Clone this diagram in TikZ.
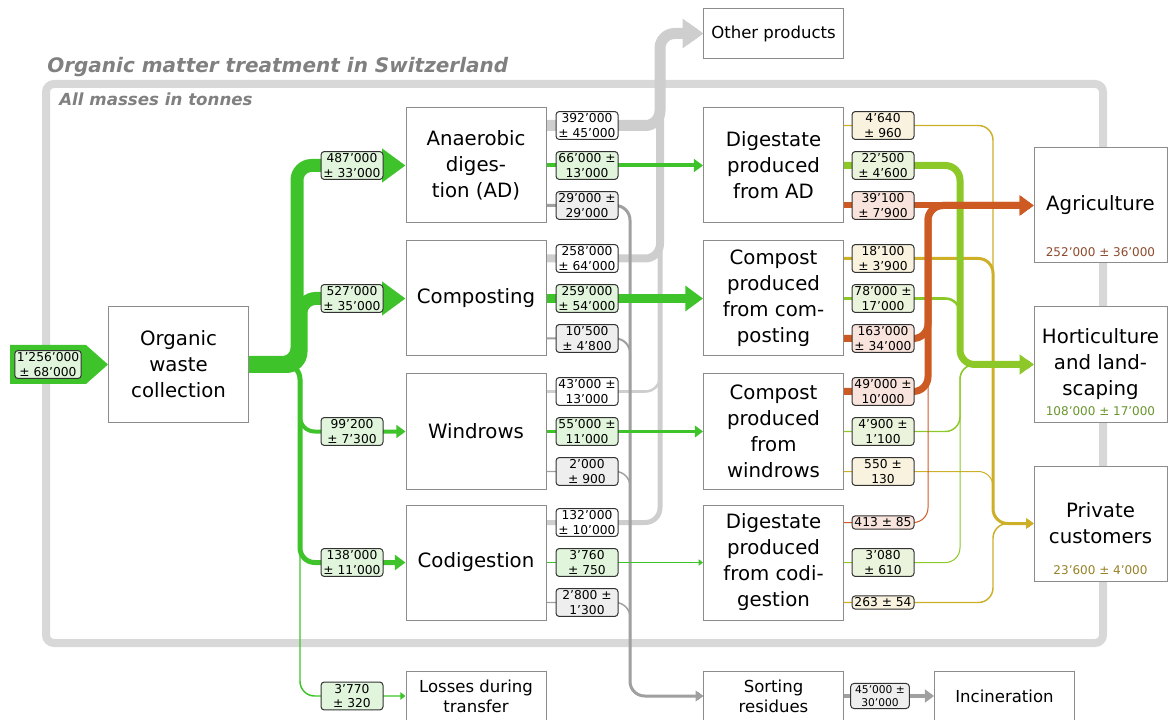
\documentclass[tikz,border=0pt]{standalone}
\usepackage{fontspec}
\setmainfont{DejaVu Sans}
\usetikzlibrary{positioning,arrows.meta}
\definecolor{frmgray}{RGB}{216,216,216}
\definecolor{ttlgray}{RGB}{128,128,128}
\definecolor{boxgray}{RGB}{140,140,140}
\definecolor{ingreen}{RGB}{62,196,42}
\definecolor{ingreenbg}{RGB}{224,245,220}
\definecolor{othgray}{RGB}{206,206,206}
\definecolor{resgray}{RGB}{160,160,160}
\definecolor{resgraybg}{RGB}{238,238,238}
\definecolor{agri}{RGB}{205,90,35}
\definecolor{agribg}{RGB}{248,228,220}
\definecolor{agritxt}{RGB}{140,75,45}
\definecolor{hort}{RGB}{140,200,40}
\definecolor{hortbg}{RGB}{234,244,220}
\definecolor{horttxt}{RGB}{105,150,45}
\definecolor{priv}{RGB}{205,175,40}
\definecolor{privbg}{RGB}{248,242,222}
\definecolor{privtxt}{RGB}{150,130,40}
\pgfdeclarelayer{framelayer}
\pgfdeclarelayer{flowlayer}
\pgfsetlayers{framelayer,flowlayer,main}
\tikzset{
  proc/.style={draw=boxgray,fill=white,line width=0.75pt,minimum width=105pt,
    minimum height=86.25pt,align=center,inner sep=2pt,
    font=\fontsize{14.8}{19.5}\selectfont},
  sbox/.style={proc,minimum height=37.5pt,font=\fontsize{12.4}{15}\selectfont},
  dest/.style={proc,minimum width=99.75pt},
  qty/.style={draw=black!80,line width=0.75pt,rounded corners=2.5pt,align=center,
    minimum width=46.5pt,inner sep=1.5pt,font=\fontsize{9.2}{11}\selectfont},
  qgreen/.style={qty,fill=ingreenbg},
  qoth/.style={qty,fill=white},
  qres/.style={qty,fill=resgraybg},
  qagri/.style={qty,fill=agribg},
  qhort/.style={qty,fill=hortbg},
  qpriv/.style={qty,fill=privbg},
  flow/.style={line width=#1,rounded corners=11pt,
    -{Triangle[length=2pt 1.6,width=3pt 2.2]}},
  dval/.style={font=\fontsize{9}{10.5}\selectfont,anchor=center,yshift=8.25pt},
  bigframe/.style={draw=frmgray,line width=6pt,rounded corners=6pt},
  ttl/.style={text=ttlgray,inner sep=0pt,anchor=base west,
    font=\fontsize{15}{18}\selectfont\bfseries\itshape},
}
\begin{document}
\begin{tikzpicture}[x=0.75pt,y=-0.75pt]
  \useasboundingbox (0,0) rectangle (1168,720);
  % titles and frame
  \node[ttl] (title) at (47,72.5) {Organic matter treatment in Switzerland};
  \node[ttl,font=\fontsize{12.5}{15}\selectfont\bfseries\itshape] (sub) at (59,106) {All masses in tonnes};
  \begin{pgfonlayer}{framelayer}
    \draw[bigframe] (46,84) rectangle (1103,643);
  \end{pgfonlayer}

  % boxes
  \node[proc] (coll) at (178.5,364.5) {Organic\\waste\\collection};
  \node[proc] (ad) at (476,165.5) {Anaerobic\\diges-\\tion (AD)};
  \node[proc] (comp) at (476,298.5) {Composting};
  \node[proc] (wind) at (476,431.5) {Windrows};
  \node[proc] (codi) at (476,562.5) {Codigestion};
  \node[sbox] (loss) at (476,696) {Losses during\\transfer};
  \node[sbox] (oth) at (773.5,33.5) {Other products};
  \node[proc] (dad) at (773.5,165.5) {Digestate\\produced\\from AD};
  \node[proc] (dcomp) at (773.5,298.5) {Compost\\produced\\from com-\\posting};
  \node[proc] (dwind) at (773.5,431.5) {Compost\\produced\\from\\windrows};
  \node[proc] (dcodi) at (773.5,562.5) {Digestate\\produced\\from codi-\\gestion};
  \node[sbox] (sort) at (773.5,696) {Sorting\\residues};
  \node[sbox] (inc) at (1004.5,696) {Incineration};
  \node[dest,label={[dval,text=agritxt]south:252’000 ± 36’000}] (agr) at (1100.5,205.5) {Agriculture};
  \node[dest,label={[dval,text=horttxt]south:108’000 ± 17’000}] (hor) at (1100.5,364.5) {Horticulture\\and land-\\scaping};
  \node[dest,label={[dval,text=privtxt]south:23’600 ± 4’000}] (pri) at (1100.5,523.5) {Private\\customers};

  % input
  \fill[ingreen] (10,345) -- (86,345) -- (108,364.5) -- (86,384) -- (10,384) -- cycle;
  \node[qgreen] (gin) at (48,364.5) {1’256’000\\± 68’000};

  % quantities, first column
  \node[qgreen] (g1) at (352,165.5) {487’000\\± 33’000};
  \node[qgreen] (g2) at (352,298.5) {527’000\\± 35’000};
  \node[qgreen] (g3) at (352,431.5) {99’200\\± 7’300};
  \node[qgreen] (g4) at (352,562.5) {138’000\\± 11’000};
  \node[qgreen] (g5) at (352,696) {3’770\\± 320};

  % quantities, second column
  \node[qoth] (a1) at (587,125.5) {392’000\\± 45’000};
  \node[qgreen] (a2) at (587,165.5) {66’000 ±\\13’000};
  \node[qres] (a3) at (587,205.5) {29’000 ±\\29’000};
  \node[qoth] (c1) at (587,258.5) {258’000\\± 64’000};
  \node[qgreen] (c2) at (587,298.5) {259’000\\± 54’000};
  \node[qres] (c3) at (587,338.5) {10’500\\± 4’800};
  \node[qoth] (w1) at (587,391.5) {43’000 ±\\13’000};
  \node[qgreen] (w2) at (587,431.5) {55’000 ±\\11’000};
  \node[qres] (w3) at (587,471.5) {2’000\\± 900};
  \node[qoth] (k1) at (587,522.5) {132’000\\± 10’000};
  \node[qgreen] (k2) at (587,562.5) {3’760\\± 750};
  \node[qres] (k3) at (587,602.5) {2’800 ±\\1’300};

  % quantities, third column
  \node[qpriv] (da1) at (883,125.5) {4’640\\± 960};
  \node[qhort] (da2) at (883,165.5) {22’500\\± 4’600};
  \node[qagri] (da3) at (883,205.5) {39’100\\± 7’900};
  \node[qpriv] (dc1) at (883,258.5) {18’100\\± 3’900};
  \node[qhort] (dc2) at (883,298.5) {78’000 ±\\17’000};
  \node[qagri] (dc3) at (883,338.5) {163’000\\± 34’000};
  \node[qagri] (dw1) at (883,391.5) {49’000 ±\\10’000};
  \node[qhort] (dw2) at (883,431.5) {4’900 ±\\1’100};
  \node[qpriv] (dw3) at (883,471.5) {550 ±\\130};
  \node[qagri] (dk1) at (883,522.5) {413 ± 85};
  \node[qhort] (dk2) at (883,562.5) {3’080\\± 610};
  \node[qpriv] (dk3) at (883,602.5) {263 ± 54};
  \node[qres,font=\fontsize{8}{9.8}\selectfont,minimum width=44pt] (ri) at (880,696) {45’000 ±\\30’000};

  % trunk positions
  \coordinate (trA) at (297,0);
  \coordinate (trC) at (301,0);
  \coordinate (trD) at (300,0);
  \coordinate (oTr) at (660,0);
  \coordinate (rTr) at (630,0);
  \coordinate (agTr) at (928,0);
  \coordinate (hoTr) at (960,0);
  \coordinate (prTr) at (993,0);

  \begin{pgfonlayer}{flowlayer}
    % to other products
    \draw[flow=1.9pt,othgray] (wind.east |- w1) -| (oTr |- oth) -- (oth.west);
    \draw[flow=3.75pt,othgray] (codi.east |- k1) -| (oTr |- oth) -- (oth.west);
    \draw[flow=6pt,othgray] (comp.east |- c1) -| (oTr |- oth) -- (oth.west);
    \draw[flow=8.25pt,othgray] (ad.east |- a1) -| (oTr |- oth) -- (oth.west);
    % to sorting residues
    \draw[flow=1.1pt,resgray] (codi.east |- k3) -| (rTr |- sort) -- (sort.west);
    \draw[flow=1.1pt,resgray] (wind.east |- w3) -| (rTr |- sort) -- (sort.west);
    \draw[flow=1.5pt,resgray] (comp.east |- c3) -| (rTr |- sort) -- (sort.west);
    \draw[flow=2.25pt,resgray] (ad.east |- a3) -| (rTr |- sort) -- (sort.west);
    \draw[flow=3pt,resgray] (sort) -- (inc);
    % collection to processes
    \draw[flow=1.1pt,ingreen] (coll.east) -| (trD |- loss) -- (loss.west);
    \draw[flow=3.75pt,ingreen] (coll.east) -| (trD |- codi) -- (codi.west);
    \draw[flow=3pt,ingreen] (coll.east) -| (trD |- wind) -- (wind.west);
    \draw[flow=9.75pt,ingreen] ([yshift=1.5pt]coll.east) -| (trA |- ad) -- (ad.west);
    \draw[flow=9.75pt,ingreen] ([yshift=-1.5pt]coll.east) -| (trC |- comp) -- (comp.west);
    % processes to products
    \draw[flow=3pt,ingreen] (ad) -- (dad);
    \draw[flow=7pt,ingreen] (comp) -- (dcomp);
    \draw[flow=2.6pt,ingreen] (wind) -- (dwind);
    \draw[flow=0.75pt,ingreen] (codi) -- (dcodi);
    % to private customers
    \draw[flow=1.1pt,priv] (dad.east |- da1) -| (prTr |- pri) -- (pri.west);
    \draw[flow=2.25pt,priv] (dcomp.east |- dc1) -| (prTr |- pri) -- (pri.west);
    \draw[flow=0.75pt,priv] (dwind.east |- dw3) -| (prTr |- pri) -- (pri.west);
    \draw[flow=1.1pt,priv] (dcodi.east |- dk3) -| (prTr |- pri) -- (pri.west);
    % to horticulture
    \draw[flow=0.75pt,hort] (dcodi.east |- dk2) -| (hoTr |- hor) -- (hor.west);
    \draw[flow=1.1pt,hort] (dwind.east |- dw2) -| (hoTr |- hor) -- (hor.west);
    \draw[flow=1.9pt,hort] (dcomp.east |- dc2) -| (hoTr |- hor) -- (hor.west);
    \draw[flow=5.25pt,hort] (dad.east |- da2) -| (hoTr |- hor) -- (hor.west);
    % to agriculture
    \draw[flow=0.75pt,agri] (dcodi.east |- dk1) -| (agTr |- agr) -- (agr.west);
    \draw[flow=5.25pt,agri] (dwind.east |- dw1) -| (agTr |- agr) -- (agr.west);
    \draw[flow=5.25pt,agri] (dcomp.east |- dc3) -| (agTr |- agr) -- (agr.west);
    \draw[flow=4.5pt,agri] (dad.east |- da3) -- (agr.west);
  \end{pgfonlayer}
\end{tikzpicture}
\end{document}
